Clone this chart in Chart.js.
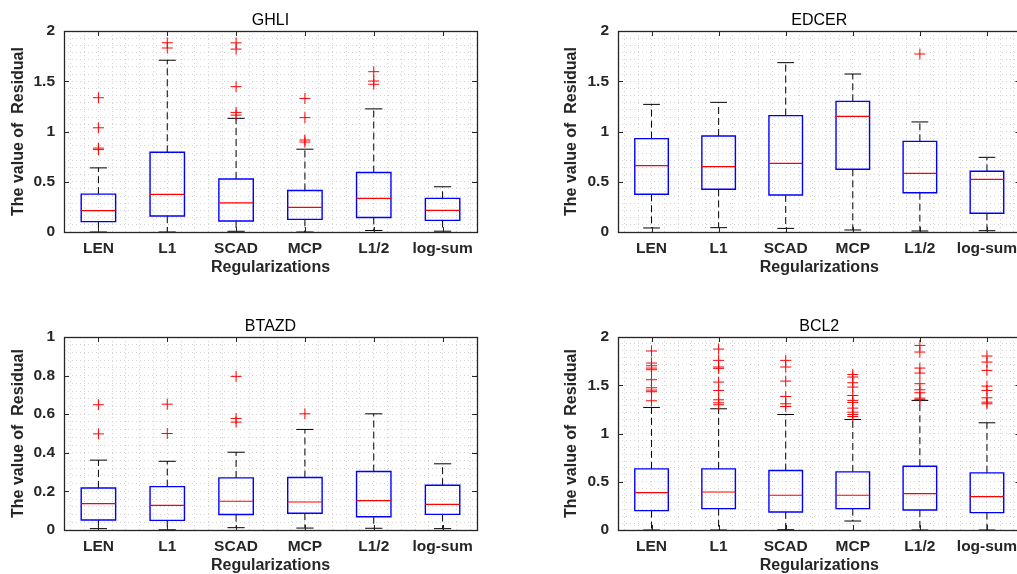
<!DOCTYPE html>
<html>
<head>
<meta charset="utf-8">
<script src="https://cdn.jsdelivr.net/npm/chart.js@4.4.1/dist/chart.umd.min.js"></script>
<style>
html,body{margin:0;padding:0;background:#fff;overflow:hidden;width:1017px;height:574px;position:relative;}
canvas{position:absolute;}
</style>
</head>
<body>
<canvas id="c1" width="507" height="287" style="left:0px;top:0px;width:507px;height:287px"></canvas>
<canvas id="c2" width="474" height="287" style="left:553px;top:0px;width:474px;height:287px"></canvas>
<canvas id="c3" width="507" height="279" style="left:0px;top:306px;width:507px;height:279px"></canvas>
<canvas id="c4" width="474" height="279" style="left:553px;top:306px;width:474px;height:279px"></canvas>
<script>
// ---------------- DATA ----------------
const categories = ['LEN', 'L1', 'SCAD', 'MCP', 'L1/2', 'log-sum'];
const yTicksResidual2 = [0, 0.5, 1, 1.5, 2];
const yTicksResidual1 = [0, 0.2, 0.4, 0.6, 0.8, 1];

// GHLI
const ghliQ1 = [0.103, 0.159, 0.109, 0.126, 0.145, 0.116];
const ghliMedian = [0.212, 0.375, 0.289, 0.245, 0.335, 0.216];
const ghliQ3 = [0.377, 0.793, 0.527, 0.413, 0.592, 0.335];
const ghliLow = [0, 0, 0.007, 0, 0.015, 0.008];
const ghliHigh = [0.638, 1.709, 1.131, 0.824, 1.225, 0.450];
const ghliOutliers = [[0.82, 0.835, 1.037, 1.336], [1.831, 1.883], [1.163, 1.19, 1.446, 1.82, 1.882], [0.895, 0.915, 1.138, 1.329], [1.47, 1.502, 1.595], []];

// EDCER
const edcerQ1 = [0.375, 0.425, 0.368, 0.624, 0.391, 0.186];
const edcerMedian = [0.660, 0.650, 0.683, 1.151, 0.584, 0.524];
const edcerQ3 = [0.929, 0.955, 1.158, 1.300, 0.902, 0.604];
const edcerLow = [0.040, 0.043, 0.036, 0.020, 0.010, 0.013];
const edcerHigh = [1.270, 1.290, 1.685, 1.572, 1.095, 0.743];
const edcerOutliers = [[], [], [], [], [1.771], []];

// BTAZD
const btazdQ1 = [0.052, 0.050, 0.080, 0.087, 0.069, 0.081];
const btazdMedian = [0.137, 0.128, 0.149, 0.145, 0.152, 0.133];
const btazdQ3 = [0.218, 0.225, 0.270, 0.272, 0.303, 0.232];
const btazdLow = [0.007, 0.001, 0.012, 0.010, 0.009, 0.007];
const btazdHigh = [0.362, 0.356, 0.403, 0.521, 0.602, 0.343];
const btazdOutliers = [[0.498, 0.649], [0.5, 0.652], [0.559, 0.578, 0.796], [0.602], [], []];

// BCL2
const bcl2Q1 = [0.201, 0.221, 0.187, 0.221, 0.208, 0.180];
const bcl2Median = [0.388, 0.394, 0.360, 0.360, 0.377, 0.346];
const bcl2Q3 = [0.633, 0.633, 0.616, 0.602, 0.661, 0.592];
const bcl2Low = [0, 0, 0.003, 0.093, 0, 0];
const bcl2High = [1.270, 1.256, 1.197, 1.145, 1.343, 1.111];
const bcl2Outliers = [
  [1.339, 1.433, 1.450, 1.474, 1.557, 1.661, 1.678, 1.702, 1.730, 1.855],
  [1.298, 1.318, 1.349, 1.446, 1.533, 1.675, 1.689, 1.758, 1.875],
  [1.280, 1.308, 1.384, 1.543, 1.689, 1.758],
  [1.176, 1.197, 1.221, 1.263, 1.322, 1.343, 1.394, 1.481, 1.526, 1.585, 1.612],
  [1.353, 1.367, 1.422, 1.453, 1.516, 1.626, 1.678, 1.844, 1.913],
  [1.308, 1.325, 1.370, 1.446, 1.491, 1.654, 1.740, 1.803]
];

// ---------------- STYLE ----------------
const BOX_HALF = 0.25;
const CAP_HALF = 0.125;
const FONT = "'Liberation Sans', Arial, Helvetica, sans-serif";
const AXIS_COLOR = '#262626';
const GRID_COLOR = '#d4d4d4';

function range(start, stop, step) {
  const out = [];
  const n = Math.round((stop - start) / step);
  for (let k = 0; k <= n; k++) out.push(start + k * step);
  return out;
}
const xGrid = range(-0.4, 5.4, 0.2);

const framePlugin = {
  id: 'frame',
  afterDraw(chart, args, opts) {
    const {ctx, chartArea: a, scales: {x, y}} = chart;
    ctx.save();
    ctx.strokeStyle = AXIS_COLOR;
    ctx.lineWidth = 1;
    ctx.beginPath();
    opts.yMajor.forEach(v => {
      const py = Math.round(y.getPixelForValue(v)) + 0.5;
      ctx.moveTo(a.left, py); ctx.lineTo(a.left + 5, py);
      ctx.moveTo(a.right, py); ctx.lineTo(a.right - 5, py);
    });
    categories.forEach((c, i) => {
      const px = Math.round(x.getPixelForValue(i)) + 0.5;
      ctx.moveTo(px, a.bottom); ctx.lineTo(px, a.bottom - 5);
      ctx.moveTo(px, a.top); ctx.lineTo(px, a.top + 5);
    });
    ctx.stroke();
    ctx.lineWidth = 1.3;
    ctx.strokeRect(Math.round(a.left) + 0.5, Math.round(a.top) + 0.5, Math.round(a.right - a.left), Math.round(a.bottom - a.top));
    ctx.restore();
  }
};

function makeChart(p) {
  const boxes = [], med = [], wh = [], caps = [], outl = [];
  categories.forEach((c, i) => {
    boxes.push({x: i - BOX_HALF, y: p.q1[i]}, {x: i + BOX_HALF, y: p.q1[i]}, {x: i + BOX_HALF, y: p.q3[i]},
               {x: i - BOX_HALF, y: p.q3[i]}, {x: i - BOX_HALF, y: p.q1[i]}, {x: i + BOX_HALF, y: p.q1[i]}, {x: i, y: null});
    med.push({x: i - BOX_HALF, y: p.median[i]}, {x: i + BOX_HALF, y: p.median[i]}, {x: i, y: null});
    wh.push({x: i, y: p.q3[i]}, {x: i, y: p.high[i]}, {x: i, y: null}, {x: i, y: p.q1[i]}, {x: i, y: p.low[i]}, {x: i, y: null});
    caps.push({x: i - CAP_HALF, y: p.high[i]}, {x: i + CAP_HALF, y: p.high[i]}, {x: i, y: null},
              {x: i - CAP_HALF, y: p.low[i]}, {x: i + CAP_HALF, y: p.low[i]}, {x: i, y: null});
    p.outliers[i].forEach(v => outl.push({x: i, y: v}));
  });
  const yGrid = range(0, p.yMax, p.yGridStep);
  const tickFont = {family: FONT, size: 15.5, weight: 'bold'};
  const titleFont = {family: FONT, size: 16, weight: 'bold'};
  new Chart(document.getElementById(p.id), {
    type: 'scatter',
    data: {
      datasets: [
        {type: 'scatter', data: outl, pointStyle: 'cross', pointRadius: 5.5, borderColor: '#ff0000', backgroundColor: '#ff0000', borderWidth: 1, order: 0},
        {type: 'line', data: med, showLine: true, borderColor: '#ff0000', borderWidth: 1.2, pointRadius: 0, spanGaps: false, order: 1},
        {type: 'line', data: boxes, showLine: true, borderColor: '#0000ff', borderWidth: 1.4, pointRadius: 0, spanGaps: false, order: 2},
        {type: 'line', data: wh, showLine: true, borderColor: '#000000', borderWidth: 1, borderDash: [7, 4], pointRadius: 0, spanGaps: false, order: 3},
        {type: 'line', data: caps, showLine: true, borderColor: '#000000', borderWidth: 1, pointRadius: 0, spanGaps: false, order: 4}
      ]
    },
    options: {
      responsive: false,
      animation: false,
      devicePixelRatio: 1,
      events: [],
      layout: {padding: {left: 0, right: p.padRight, top: 0, bottom: 0}},
      plugins: {
        legend: {display: false},
        tooltip: {enabled: false},
        title: {display: true, text: p.title, fullSize: false, color: '#000000',
                font: {family: FONT, size: 16, weight: 'normal'}, padding: {top: 10.5, bottom: 1.3}},
        frame: {yMajor: p.yTicks}
      },
      scales: {
        x: {
          type: 'linear', min: -0.5, max: 5.5, offset: false,
          afterBuildTicks: s => { s.ticks = xGrid.map(v => ({value: v})); },
          afterFit: s => { s.height = 55; },
          ticks: {
            autoSkip: false, maxRotation: 0, minRotation: 0, padding: 7, color: AXIS_COLOR, font: tickFont,
            callback: v => {
              const r = Math.round(v);
              return (Math.abs(v - r) < 1e-6 && r >= 0 && r < categories.length) ? categories[r] : '';
            }
          },
          grid: {color: GRID_COLOR, lineWidth: 1, drawTicks: false, offset: false},
          border: {display: false, dash: [1, 3]},
          title: {display: true, text: 'Regularizations', color: AXIS_COLOR, font: titleFont, padding: {top: 0, bottom: 10}}
        },
        y: {
          type: 'linear', min: 0, max: p.yMax,
          afterBuildTicks: s => { s.ticks = yGrid.map(v => ({value: v})); },
          afterFit: s => { s.width = p.yWidth; },
          ticks: {
            autoSkip: false, padding: 9, color: AXIS_COLOR, font: tickFont,
            callback: v => {
              const m = p.yTicks.find(t => Math.abs(t - v) < 1e-6);
              return m === undefined ? '' : String(m);
            }
          },
          grid: {color: GRID_COLOR, lineWidth: 1, drawTicks: false},
          border: {display: false, dash: [1, 3]},
          title: {display: true, text: 'The value of  Residual', color: AXIS_COLOR, font: titleFont, padding: {top: 9.4, bottom: 0}}
        }
      }
    },
    plugins: [framePlugin]
  });
}

makeChart({id: 'c1', title: 'GHLI', q1: ghliQ1, median: ghliMedian, q3: ghliQ3, low: ghliLow, high: ghliHigh, outliers: ghliOutliers,
  yMax: 2, yTicks: yTicksResidual2, yGridStep: 0.5 / 7, yWidth: 64, padRight: 30});
makeChart({id: 'c2', title: 'EDCER', q1: edcerQ1, median: edcerMedian, q3: edcerQ3, low: edcerLow, high: edcerHigh, outliers: edcerOutliers,
  yMax: 2, yTicks: yTicksResidual2, yGridStep: 0.5 / 7, yWidth: 65, padRight: 6.4});
makeChart({id: 'c3', title: 'BTAZD', q1: btazdQ1, median: btazdMedian, q3: btazdQ3, low: btazdLow, high: btazdHigh, outliers: btazdOutliers,
  yMax: 1, yTicks: yTicksResidual1, yGridStep: 0.04, yWidth: 64, padRight: 30});
makeChart({id: 'c4', title: 'BCL2', q1: bcl2Q1, median: bcl2Median, q3: bcl2Q3, low: bcl2Low, high: bcl2High, outliers: bcl2Outliers,
  yMax: 2, yTicks: yTicksResidual2, yGridStep: 0.5 / 7, yWidth: 65, padRight: 6.4});
</script>
</body>
</html>
